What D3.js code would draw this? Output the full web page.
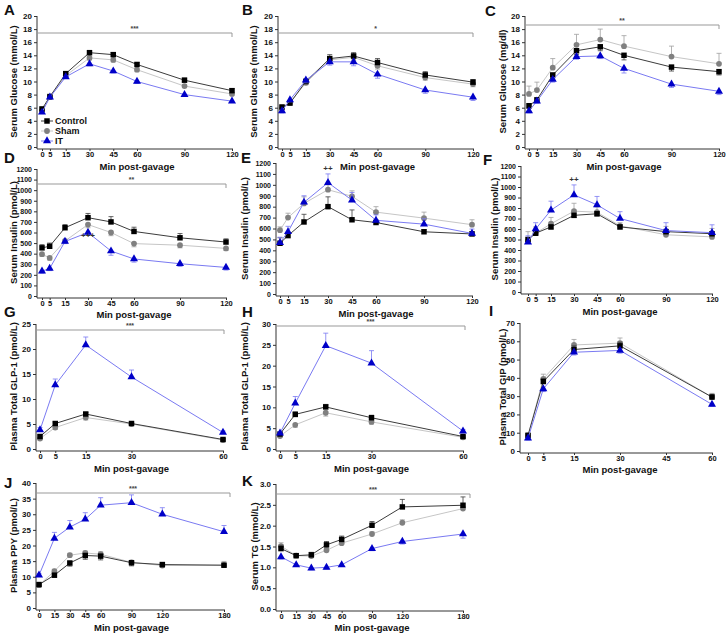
<!DOCTYPE html>
<meta charset="utf-8">
<style>
body { margin: 0; background: #fff; }
svg text { font-family: Arial, "Liberation Sans", sans-serif; font-weight: bold; fill: #111; }
.tick text { font-size: 8px; }
.tick line, .axisline { stroke: #333; stroke-width: 1; }
.bracket { stroke: #999; fill: none; stroke-width: 1; }
</style>
<svg id="chart"></svg>
<script src="https://cdn.jsdelivr.net/npm/d3@7"></script>
<script>

// time points (min post-gavage)
var times8 = [0, 5, 15, 30, 45, 60, 90, 120];
var times5 = [0, 5, 15, 30, 60];
var timesLate = [0, 15, 30, 45, 60, 90, 120, 180];
var gipTicks = [0, 5, 15, 30, 45, 60];

var groups = ["Sham", "Control", "IT"]; // draw order

// A - serum glucose (mmol/L)
var A_ctl = [5.8, 7.7, 11.2, 14.4, 14.1, 12.6, 10.2, 8.6];
var A_sham = [5.6, 7.6, 10.9, 13.6, 13.3, 11.8, 9.3, 8.1];
var A_it = [5.3, 7.6, 10.7, 12.7, 11.6, 10.0, 8.0, 7.0];
var A_ctlErr = [0.3, 0.2, 0.3, 0.3, 0.3, 0.3, 0.3, 0.3];
var A_shamErr = [0.2, 0.2, 0.2, 0.3, 0.3, 0.3, 0.2, 0.2];
var A_itErr = [0.2, 0.2, 0.2, 0.3, 0.3, 0.3, 0.2, 0.2];

// B - serum glucose (mmol/L)
var B_ctl = [6.1, 6.7, 10.0, 13.5, 13.9, 12.9, 11.0, 9.9];
var B_sham = [5.9, 6.8, 9.8, 13.3, 13.7, 12.4, 10.6, 9.6];
var B_it = [5.5, 7.2, 10.2, 13.0, 13.0, 11.1, 8.7, 7.6];
var B_ctlErr = [0.3, 0.3, 0.4, 0.6, 0.5, 0.6, 0.5, 0.4];
var B_shamErr = [0.3, 0.3, 0.3, 0.5, 0.5, 0.5, 0.4, 0.4];
var B_itErr = [0.3, 0.3, 0.4, 0.5, 0.6, 0.6, 0.5, 0.5];

// C - serum glucose (mg/dl)
var C_ctl = [6.3, 7.2, 11.0, 14.7, 15.3, 14.0, 12.2, 11.5];
var C_sham = [8.1, 8.7, 12.1, 15.6, 16.4, 15.4, 13.8, 12.7];
var C_it = [5.5, 7.0, 10.3, 13.8, 13.9, 12.0, 9.6, 8.5];
var C_ctlErr = [0.4, 0.4, 0.6, 0.6, 0.6, 0.7, 0.6, 0.5];
var C_shamErr = [1.2, 1.2, 1.4, 1.6, 1.6, 1.6, 1.6, 1.6];
var C_itErr = [0.3, 0.3, 0.4, 0.4, 0.4, 0.7, 0.5, 0.5];

// D - serum insulin (pmol/L)
var D_ctl = [455, 470, 645, 740, 700, 610, 550, 510];
var D_sham = [395, 360, 520, 675, 600, 495, 480, 450];
var D_it = [235, 260, 515, 600, 425, 350, 305, 270];
var D_ctlErr = [30, 30, 30, 40, 50, 40, 40, 30];
var D_shamErr = [20, 20, 20, 30, 30, 30, 25, 20];
var D_itErr = [20, 20, 20, 20, 40, 30, 25, 25];

// E - serum insulin (pmol/L)
var E_ctl = [465, 535, 660, 800, 680, 655, 570, 550];
var E_sham = [585, 700, 830, 955, 895, 750, 695, 635];
var E_it = [470, 570, 840, 1020, 860, 675, 640, 555];
var E_ctlErr = [50, 20, 70, 90, 90, 20, 20, 20];
var E_shamErr = [30, 40, 60, 45, 50, 50, 55, 45];
var E_itErr = [50, 50, 60, 80, 70, 50, 50, 40];

// F - serum insulin (pmol/L)
var F_ctl = [500, 560, 620, 730, 745, 620, 575, 555];
var F_sham = [490, 560, 650, 770, 760, 630, 545, 525];
var F_it = [475, 600, 780, 925, 830, 700, 585, 565];
var F_ctlErr = [20, 20, 20, 20, 20, 20, 20, 20];
var F_shamErr = [85, 60, 60, 75, 50, 30, 80, 80];
var F_itErr = [60, 60, 85, 95, 80, 65, 75, 75];

// G - plasma total GLP-1 (pmol/L)
var G_ctl = [2.5, 5.1, 7.0, 5.1, 1.9];
var G_sham = [2.1, 4.3, 6.3, 5.0, 1.8];
var G_it = [3.8, 12.8, 20.8, 14.4, 3.3];
var G_ctlErr = [0.3, 0.3, 0.3, 0.3, 0.2];
var G_shamErr = [0.3, 0.4, 0.5, 0.3, 0.2];
var G_itErr = [0.5, 1.2, 1.6, 1.4, 0.3];

// H - plasma total GLP-1 (pmol/L)
var H_ctl = [3.6, 8.3, 10.1, 7.5, 3.0];
var H_sham = [3.1, 5.8, 8.7, 6.5, 2.8];
var H_it = [3.8, 11.0, 24.8, 20.6, 4.3];
var H_ctlErr = [0.3, 0.6, 0.6, 0.6, 0.3];
var H_shamErr = [0.3, 0.6, 0.8, 0.5, 0.3];
var H_itErr = [0.3, 1.6, 3.0, 3.0, 0.4];

// I - plasma total GIP (pmol/L)
var I_ctl = [8.5, 38, 55.5, 57.5, 29.5];
var I_sham = [8.5, 39.5, 58, 59, 29.5];
var I_it = [7, 34, 54, 55, 25.5];
var I_ctlErr = [1, 1.5, 2, 2, 1.5];
var I_shamErr = [1.5, 2.5, 3, 2.8, 2];
var I_itErr = [1, 1.5, 1.5, 1.5, 1];

// J - plasma PPY (pmol/L)
var J_ctl = [7.5, 10.5, 14.4, 16.8, 16.6, 14.5, 13.9, 13.7];
var J_sham = [7.3, 11.8, 16.9, 17.6, 17.2, 14.6, 13.6, 13.7];
var J_it = [10.5, 22.3, 25.9, 28.4, 32.9, 33.7, 30.0, 24.4];
var J_ctlErr = [0.5, 0.6, 1.0, 1.2, 1.2, 1.0, 0.7, 0.6];
var J_shamErr = [0.5, 0.6, 0.6, 0.6, 0.8, 0.6, 0.7, 1.2];
var J_itErr = [0.5, 1.9, 2.1, 2.1, 2.4, 2.5, 2.1, 2.0];

// K - serum TG (mmol/L)
var K_ctl = [1.45, 1.28, 1.30, 1.54, 1.67, 2.01, 2.45, 2.49];
var K_sham = [1.51, 1.28, 1.27, 1.41, 1.58, 1.80, 2.07, 2.41];
var K_it = [1.25, 1.06, 0.98, 1.00, 1.06, 1.45, 1.62, 1.80];
var K_ctlErr = [0.08, 0.05, 0.06, 0.08, 0.08, 0.09, 0.18, 0.2];
var K_shamErr = [0.08, 0.05, 0.05, 0.05, 0.05, 0.05, 0.07, 0.05];
var K_itErr = [0.05, 0.04, 0.04, 0.04, 0.04, 0.05, 0.06, 0.1];

var style = {
  Control: { line: "#3c3c3c", fill: "#000", err: "#3c3c3c", shape: d3.symbolSquare, size: 30 },
  Sham:    { line: "#c6c6c6", fill: "#808080", err: "#a0a0a0", shape: d3.symbolCircle, size: 26 },
  IT:      { line: "#7a7af2", fill: "#0000c8", err: "#7a7af2", shape: d3.symbolTriangle, size: 28 }
};

// layout for each panel (pixel positions)
var panels = [
  { id: "A", lx: 4, ly: 15, t: times8, ticks: times8, xMax: 120, yMax: 20, step: 2,
    x0: 42, x1: 232, yTop: 16, yBot: 147, ax: 37, ay: 149, tx: 14,
    title: "Serum Glucose (mmol/L)", xlab: 170,
    s: { Control: [A_ctl, A_ctlErr, 1], Sham: [A_sham, A_shamErr, -1], IT: [A_it, A_itErr, -1] },
    bracket: { y: 33, x2: 232, text: "***" }, legend: true },
  { id: "B", lx: 242, ly: 15, t: times8, ticks: times8, xMax: 120, yMax: 20, step: 2,
    x0: 282, x1: 473, yTop: 16, yBot: 147, ax: 278, ay: 149, tx: 254,
    title: "Serum Glucose (mmol/L)", xlab: 170,
    s: { Control: [B_ctl, B_ctlErr, 1], Sham: [B_sham, B_shamErr, -1], IT: [B_it, B_itErr, -1] },
    bracket: { y: 33, x2: 473, text: "*" } },
  { id: "C", lx: 485, ly: 16, t: times8, ticks: times8, xMax: 120, yMax: 20, step: 2,
    x0: 529, x1: 719, yTop: 16, yBot: 147, ax: 525, ay: 149, tx: 503,
    title: "Serum Glucose (mg/dl)", xlab: 170,
    s: { Control: [C_ctl, C_ctlErr, -1], Sham: [C_sham, C_shamErr, 1], IT: [C_it, C_itErr, -1] },
    bracket: { y: 25, x2: 719, text: "**" } },
  { id: "D", lx: 4, ly: 163, t: times8, ticks: times8, xMax: 120, yMax: 1200, step: 100,
    x0: 42, x1: 226, yTop: 169, yBot: 296, ax: 37, ay: 298, tx: 14,
    title: "Serum Insulin (pmol/L)", xlab: 318, yFont: 7,
    s: { Control: [D_ctl, D_ctlErr, 1], Sham: [D_sham, D_shamErr, -1], IT: [D_it, D_itErr, -1] },
    bracket: { y: 184, x2: 226, text: "**" }, note: { x: 30, y: 545, text: "+++" } },
  { id: "E", lx: 241, ly: 163, t: times8, ticks: times8, xMax: 120, yMax: 1200, step: 100,
    x0: 280, x1: 472, yTop: 163, yBot: 294, ax: 276, ay: 296, tx: 245,
    title: "Serum Insulin (pmol/L)", xlab: 317, yFont: 7,
    s: { Control: [E_ctl, E_ctlErr, 1], Sham: [E_sham, E_shamErr, 1], IT: [E_it, E_itErr, 1] },
    note: { x: 30, y: 1125, text: "++" } },
  { id: "F", lx: 483, ly: 165, t: times8, ticks: times8, xMax: 120, yMax: 1200, step: 100,
    x0: 528, x1: 712, yTop: 166, yBot: 292, ax: 521, ay: 294, tx: 495,
    title: "Serum Insulin (pmol/L)", xlab: 315, yFont: 7,
    s: { Control: [F_ctl, F_ctlErr, -1], Sham: [F_sham, F_shamErr, 1], IT: [F_it, F_itErr, 1] },
    note: { x: 30, y: 1050, text: "++" } },
  { id: "G", lx: 4, ly: 317, t: times5, ticks: times5, xMax: 60, yMax: 25, step: 5,
    x0: 40, x1: 223, yTop: 324, yBot: 449, ax: 36, ay: 451, tx: 14,
    title: "Plasma Total GLP-1 (pmol/L)", xlab: 472,
    s: { Control: [G_ctl, G_ctlErr, 1], Sham: [G_sham, G_shamErr, -1], IT: [G_it, G_itErr, 1] },
    bracket: { y: 330, x2: 224, text: "***" } },
  { id: "H", lx: 242, ly: 317, t: times5, ticks: times5, xMax: 60, yMax: 30, step: 5,
    x0: 280, x1: 463, yTop: 324, yBot: 449, ax: 276, ay: 451, tx: 245,
    title: "Plasma Total GLP-1 (pmol/L)", xlab: 472,
    s: { Control: [H_ctl, H_ctlErr, 1], Sham: [H_sham, H_shamErr, -1], IT: [H_it, H_itErr, 1] },
    bracket: { y: 326, x2: 465, text: "***" } },
  { id: "I", lx: 489, ly: 316, t: times5, ticks: gipTicks, xMax: 60, yMax: 70, step: 10,
    x0: 528, x1: 712, yTop: 323, yBot: 451, ax: 520, ay: 453, tx: 503,
    title: "Plasma Total GIP (pmol/L)", xlab: 473,
    s: { Control: [I_ctl, I_ctlErr, 1], Sham: [I_sham, I_shamErr, 1], IT: [I_it, I_itErr, -1] } },
  { id: "J", lx: 4, ly: 488, t: timesLate, ticks: timesLate, xMax: 180, yMax: 40, step: 5,
    x0: 39, x1: 224, yTop: 483, yBot: 608, ax: 36, ay: 610, tx: 14,
    title: "Plasma PPY (pmol/L)", xlab: 631,
    s: { Control: [J_ctl, J_ctlErr, -1], Sham: [J_sham, J_shamErr, 1], IT: [J_it, J_itErr, 1] },
    bracket: { y: 493, x2: 230, text: "***" } },
  { id: "K", lx: 242, ly: 486, t: timesLate, ticks: timesLate, xMax: 180, yMax: 3, step: 0.5,
    x0: 281, x1: 463, yTop: 484, yBot: 609, ax: 276, ay: 611, tx: 255,
    title: "Serum TG (mmol/L)", xlab: 631, yFmt: ".1f",
    s: { Control: [K_ctl, K_ctlErr, 1], Sham: [K_sham, K_shamErr, 1], IT: [K_it, K_itErr, -1] },
    bracket: { y: 494, x2: 470, text: "***" } }
];

var svg = d3.select("#chart").attr("width", 728).attr("height", 638);

panels.forEach(function(p) {
  var g = svg.append("g");
  var x = d3.scaleLinear().domain([0, p.xMax]).range([p.x0, p.x1]);
  var y = d3.scaleLinear().domain([0, p.yMax]).range([p.yBot, p.yTop]);

  // panel letter
  svg.append("text").attr("x", p.lx).attr("y", p.ly)
    .style("font-size", "15px").text(p.id);

  // y axis
  var yTicks = d3.range(0, p.yMax + p.step / 2, p.step);
  var yAxis = g.append("g").attr("transform", "translate(" + p.ax + ",0)")
    .call(d3.axisLeft(y).tickValues(yTicks).tickSize(3).tickPadding(2)
      .tickFormat(d3.format(p.yFmt || "d")));
  yAxis.select(".domain").remove();
  yAxis.selectAll(".tick text").style("font-size", (p.yFont || 8) + "px");
  g.append("line").attr("class", "axisline")
    .attr("x1", p.ax).attr("x2", p.ax).attr("y1", p.ay).attr("y2", p.yTop);

  // x axis
  var xAxis = g.append("g").attr("transform", "translate(0," + p.ay + ")")
    .call(d3.axisBottom(x).tickValues(p.ticks).tickSize(2).tickPadding(1));
  xAxis.select(".domain").remove();
  xAxis.selectAll(".tick text").style("font-size", "7.5px");
  g.append("line").attr("class", "axisline")
    .attr("x1", p.ax).attr("x2", p.x1 + 1).attr("y1", p.ay).attr("y2", p.ay);

  g.append("text").attr("x", (p.x0 + p.x1) / 2).attr("y", p.xlab)
    .attr("text-anchor", "middle").style("font-size", "9.5px").text("Min post-gavage");

  g.append("text")
    .attr("transform", "translate(" + p.tx + "," + ((p.yTop + p.yBot) / 2) + ") rotate(-90)")
    .attr("text-anchor", "middle").attr("dy", "0.35em")
    .style("font-size", "9.5px").text(p.title);

  // significance bracket
  if (p.bracket) {
    var b = p.bracket;
    g.append("path").attr("class", "bracket")
      .attr("d", "M" + p.ax + "," + (b.y + 4) + "V" + b.y + "H" + b.x2 + "V" + (b.y + 4));
    g.append("text").attr("x", (p.ax + b.x2) / 2).attr("y", b.y - 2)
      .attr("text-anchor", "middle").style("font-size", "7px").style("fill", "#444")
      .text(b.text);
  }

  groups.forEach(function(name) {
    var st = style[name];
    var vals = p.s[name][0], errs = p.s[name][1], dir = p.s[name][2];
    var pts = p.t.map(function(t, i) { return { t: t, v: vals[i], e: errs[i] }; });

    // error bars
    var eb = g.append("g").attr("stroke", st.err).attr("stroke-width", 0.8);
    pts.forEach(function(d) {
      var yEnd = y(d.v + dir * d.e);
      eb.append("line").attr("x1", x(d.t)).attr("x2", x(d.t))
        .attr("y1", y(d.v)).attr("y2", yEnd);
      eb.append("line").attr("x1", x(d.t) - 2.5).attr("x2", x(d.t) + 2.5)
        .attr("y1", yEnd).attr("y2", yEnd);
    });

    g.append("path").datum(pts)
      .attr("fill", "none").attr("stroke", st.line).attr("stroke-width", 1)
      .attr("d", d3.line().x(function(d) { return x(d.t); }).y(function(d) { return y(d.v); }));

    g.selectAll(null).data(pts).enter().append("path")
      .attr("transform", function(d) { return "translate(" + x(d.t) + "," + y(d.v) + ")"; })
      .attr("d", d3.symbol().type(st.shape).size(st.size))
      .attr("fill", st.fill);
  });

  if (p.note) {
    g.append("text").attr("x", x(p.note.x)).attr("y", y(p.note.y))
      .attr("text-anchor", "middle").style("font-size", "8px").style("fill", "#333")
      .text(p.note.text);
  }

  // legend (panel A only)
  if (p.legend) {
    ["Control", "Sham", "IT"].forEach(function(name, i) {
      var st = style[name], ly = 121 + i * 10;
      g.append("line").attr("x1", 41).attr("x2", 53).attr("y1", ly).attr("y2", ly)
        .attr("stroke", st.line).attr("stroke-width", 1);
      g.append("path").attr("transform", "translate(47," + ly + ")")
        .attr("d", d3.symbol().type(st.shape).size(st.size)).attr("fill", st.fill);
      g.append("text").attr("x", 55).attr("y", ly).attr("dy", "0.35em")
        .style("font-size", "9px").text(name);
    });
  }
});
</script>
